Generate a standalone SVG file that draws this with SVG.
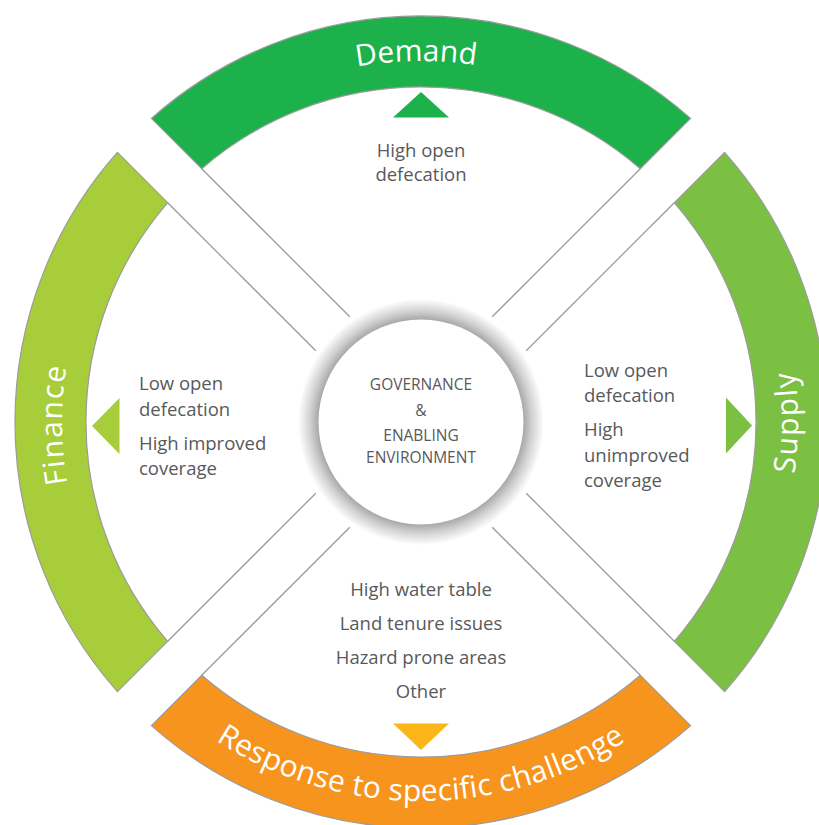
<svg xmlns="http://www.w3.org/2000/svg" width="819" height="825" viewBox="0 0 819 825">
<defs>
<style>
.band{stroke:#9b9b9b;stroke-width:1.2}
.gap{stroke:#9b9b9b;stroke-width:1.3;fill:none}
.lbl{font-family:"Open Sans","Liberation Sans",sans-serif;font-size:30px;fill:#ffffff}
.txt{font-family:"Open Sans","Liberation Sans",sans-serif;font-size:18.5px;fill:#58595b}
.mid{text-anchor:middle}
.ctr{font-family:"Open Sans","Liberation Sans",sans-serif;font-size:15.5px;fill:#58595b;text-anchor:middle}
</style>
<radialGradient id="halo" cx="0" cy="0" r="123" gradientUnits="userSpaceOnUse">
<stop offset="0" stop-color="#9a9a9a"/>
<stop offset="0.82" stop-color="#a0a0a0"/>
<stop offset="0.9" stop-color="#d0d0d0"/>
<stop offset="1" stop-color="#ffffff"/>
</radialGradient>
<path id="pDemand" d="M -361 0 A 361 361 0 0 1 361 0"/>
<path id="pFinance" d="M 0 359 A 359 359 0 0 1 0 -359"/>
<path id="pSupply" d="M 0 377 A 377 377 0 0 0 0 -377"/>
<path id="pResponse" d="M -379 0 A 379 379 0 0 0 379 0"/>
</defs>
<rect width="819" height="825" fill="#ffffff"/>
<g transform="translate(421,422)">
<g id="connectors">
<line class="gap" x1="-219.3" y1="-253.3" x2="-71.2" y2="-105.2"/>
<line class="gap" x1="-253.3" y1="-219.3" x2="-105.2" y2="-71.2"/>
<line class="gap" x1="219.3" y1="-253.3" x2="71.2" y2="-105.2"/>
<line class="gap" x1="253.3" y1="-219.3" x2="105.2" y2="-71.2"/>
<line class="gap" x1="253.3" y1="219.3" x2="105.2" y2="71.2"/>
<line class="gap" x1="219.3" y1="253.3" x2="71.2" y2="105.2"/>
<line class="gap" x1="-219.3" y1="253.3" x2="-71.2" y2="105.2"/>
<line class="gap" x1="-253.3" y1="219.3" x2="-105.2" y2="71.2"/>
</g>
<g id="demand">
<path class="band" fill="#1db14b" d="M -269.6 -303.6 A 406 406 0 0 1 269.6 -303.6 L 219.3 -253.3 A 335 335 0 0 0 -219.3 -253.3 Z"/>
<text class="lbl"><textPath href="#pDemand" startOffset="562" text-anchor="middle">Demand</textPath></text>
</g>
<g id="finance">
<path class="band" fill="#a7cd3a" d="M -303.6 269.6 A 406 406 0 0 1 -303.6 -269.6 L -253.3 -219.3 A 335 335 0 0 0 -253.3 219.3 Z"/>
<text class="lbl" letter-spacing="1.6"><textPath href="#pFinance" startOffset="561" text-anchor="middle">Finance</textPath></text>
</g>
<g id="supply">
<path class="band" fill="#7bc043" d="M 303.6 -269.6 A 406 406 0 0 1 303.6 269.6 L 253.3 219.3 A 335 335 0 0 0 253.3 -219.3 Z"/>
<text class="lbl" letter-spacing="1.7"><textPath href="#pSupply" startOffset="50%" text-anchor="middle">Supply</textPath></text>
</g>
<g id="response">
<path class="band" fill="#f7941e" d="M 269.6 303.6 A 406 406 0 0 1 -269.6 303.6 L -219.3 253.3 A 335 335 0 0 0 219.3 253.3 Z"/>
<text class="lbl" letter-spacing="0.3"><textPath href="#pResponse" startOffset="50%" text-anchor="middle">Response to specific challenge</textPath></text>
</g>
<g id="governance">
<circle r="123" fill="url(#halo)"/>
<circle r="102.5" fill="#ffffff"/>
</g>
</g>
<g id="governance-text">
<text class="ctr" x="421" y="390">GOVERNANCE</text>
<text class="ctr" x="421" y="415.5">&amp;</text>
<text class="ctr" x="421" y="440.5">ENABLING</text>
<text class="ctr" x="421" y="462.5">ENVIRONMENT</text>
</g>
<g id="demand-detail">
<polygon points="421,92 449,117.5 393,117.5" fill="#1db14b"/>
<text class="txt mid" x="421" y="156.5">High open</text>
<text class="txt mid" x="421" y="181">defecation</text>
</g>
<g id="finance-detail">
<polygon points="92,426 119.5,398 119.5,454" fill="#a7cd3a"/>
<text class="txt" x="139" y="390">Low open</text>
<text class="txt" x="139" y="415.5">defecation</text>
<text class="txt" x="139" y="449.5">High improved</text>
<text class="txt" x="139" y="475">coverage</text>
</g>
<g id="supply-detail">
<polygon points="752,425.5 726,397.5 726,453.5" fill="#7bc043"/>
<text class="txt" x="584" y="377">Low open</text>
<text class="txt" x="584" y="402">defecation</text>
<text class="txt" x="584" y="436">High</text>
<text class="txt" x="584" y="461.5">unimproved</text>
<text class="txt" x="584" y="486.5">coverage</text>
</g>
<g id="response-detail">
<polygon points="393,723.5 449,723.5 421,750" fill="#fdb619"/>
<text class="txt mid" x="421" y="595.5">High water table</text>
<text class="txt mid" x="421" y="629.5">Land tenure issues</text>
<text class="txt mid" x="421" y="663.5">Hazard prone areas</text>
<text class="txt mid" x="421" y="697.5">Other</text>
</g>
</svg>
